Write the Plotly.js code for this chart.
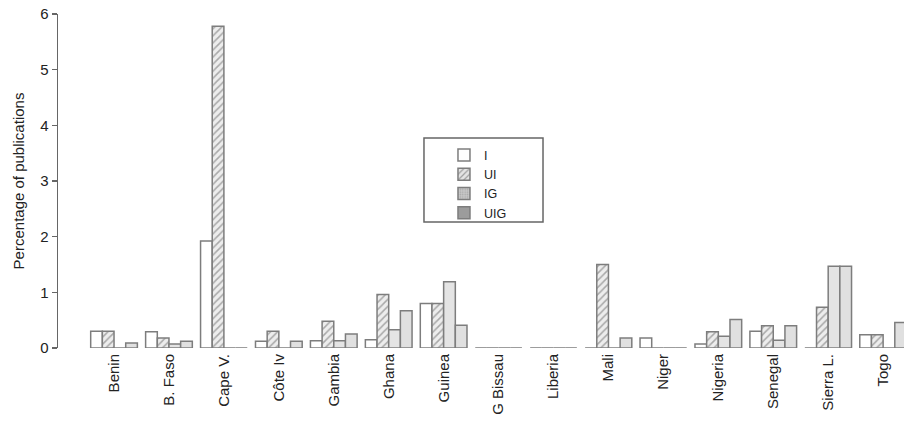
<!DOCTYPE html>
<html>
<head>
<meta charset="utf-8">
<script src="https://cdn.plot.ly/plotly-3.0.1.min.js"></script>
<style>html,body{margin:0;padding:0;background:#fff;}#chart{width:904px;height:423px;}</style>
</head>
<body>
<div id="chart"></div>
<script>
var countries = ['Benin','B. Faso','Cape V.','Côte Iv','Gambia','Ghana','Guinea','G Bissau','Liberia','Mali','Niger','Nigeria','Senegal','Sierra L.','Togo'];
var seriesNames = ['I','UI','IG','UIG'];
var valI   = [0.30,0.29,1.92,0.12,0.13,0.15,0.80,0,0,0,0.18,0.07,0.30,0,0.24];
var valUI  = [0.30,0.18,5.78,0.30,0.48,0.96,0.80,0,0,1.50,0,0.29,0.40,0.73,0.24];
var valIG  = [0,0.07,0,0,0.13,0.33,1.19,0,0,0,0,0.21,0.14,1.47,0];
var valUIG = [0.09,0.12,0,0.12,0.25,0.67,0.41,0,0,0.18,0,0.51,0.40,1.47,0.46];
var yTicks = [0,1,2,3,4,5,6];

var outline = {color:'#7d7d7d', width:1.5};
var barMarkers = [
  {color:'#ffffff', line:outline},
  {color:'#ededed', line:outline, pattern:{shape:'/', fgcolor:'#a8a8a8', bgcolor:'#ededed', size:5, solidity:0.3}},
  {color:'#e4e4e4', line:outline},
  {color:'#e0e0e0', line:outline}
];
var legendMarkers = [
  {color:'#ffffff', line:outline},
  {color:'#e0e0e0', line:outline, pattern:{shape:'/', fgcolor:'#a0a0a0', bgcolor:'#e4e4e4', size:5, solidity:0.3}},
  {color:'#c4c4c4', line:outline, pattern:{shape:'.', fgcolor:'#a8a8a8', bgcolor:'#c8c8c8', size:3, solidity:0.3}},
  {color:'#9c9c9c', line:outline}
];
var vals = [valI, valUI, valIG, valUIG];
var traces = [];
for (var i = 0; i < 4; i++) {
  traces.push({type:'bar', x:countries, y:vals[i], name:seriesNames[i], offsetgroup:seriesNames[i],
    marker:barMarkers[i], showlegend:false, hoverinfo:'x+y+name'});
}
for (var j = 0; j < 4; j++) {
  traces.push({type:'bar', x:[countries[0]], y:[null], name:seriesNames[j], offsetgroup:seriesNames[j],
    marker:legendMarkers[j], showlegend:true, hoverinfo:'skip'});
}

var layout = {
  width:904, height:423,
  margin:{l:58, r:0, t:14, b:75},
  paper_bgcolor:'#ffffff', plot_bgcolor:'#ffffff',
  font:{family:'Liberation Sans, Arial, sans-serif', color:'#222', size:15},
  barmode:'group', bargap:0.15, bargroupgap:0,
  xaxis:{type:'category', range:[-1.02, 14.38], showline:false, ticks:'', showgrid:false, zeroline:false,
    tickangle:-90, tickfont:{size:15, color:'#222'}, ticklabelstandoff:2, fixedrange:true},
  yaxis:{range:[0,6], tickvals:yTicks, ticktext:yTicks.map(String), showline:true, linecolor:'#666', linewidth:1.5,
    ticks:'outside', ticklen:5, tickcolor:'#666', tickwidth:1.5, showgrid:false, zeroline:false,
    tickfont:{size:15, color:'#222'},
    title:{text:'Percentage of publications', font:{size:15, color:'#222'}, standoff:12}},
  shapes:[{type:'rect', xref:'paper', yref:'paper', x0:0.4326, x1:0.5733, y0:0.3772, y1:0.6287,
    line:{color:'#666', width:1.5}, fillcolor:'#ffffff', layer:'above'}],
  legend:{x:0.4326, y:0.622, xanchor:'left', yanchor:'top', bgcolor:'rgba(0,0,0,0)', borderwidth:0,
    font:{size:12.5, color:'#222'}, traceorder:'normal', tracegroupgap:0, indentation:20},
  showlegend:true
};
Plotly.newPlot('chart', traces, layout, {displayModeBar:false, staticPlot:true});
</script>
</body>
</html>
